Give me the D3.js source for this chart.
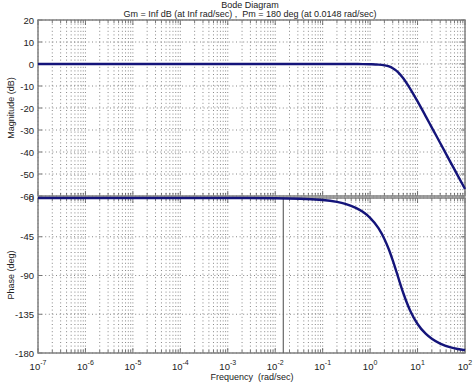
<!DOCTYPE html>
<html><head><meta charset="utf-8">
<script src="https://cdn.jsdelivr.net/npm/d3@7"></script>
<style>
html,body{margin:0;padding:0;background:#fff;}
svg{display:block;font-family:"Liberation Sans",Arial,sans-serif;}
svg text{white-space:pre;}
</style></head>
<body>
<svg id="c" width="474" height="383"></svg>
<script>
// ---- data ----
const freq      = [1e-7, 1e-3, 1e-2, 0.1, 0.2, 0.3, 0.5, 0.7, 1, 1.5, 2, 2.5, 3, 3.5, 4, 5, 7, 10, 15, 20, 30, 50, 70, 100];
const magnitude = [0, 0, 0, 0, 0, -0.01, -0.02, -0.04, -0.1, -0.27, -0.6, -1.1, -1.9, -2.9, -4.0, -6.5, -11.3, -17.0, -23.9, -28.9, -35.9, -44.8, -50.6, -56.8];
const phase     = [0, -0.02, -0.23, -2.3, -4.5, -6.8, -11.4, -16.0, -23.0, -35.0, -47.5, -60.1, -72.4, -83.7, -93.9, -110.3, -130.9, -146.3, -157.9, -163.5, -169.1, -173.5, -175.3, -176.7];
const magTicks   = [20, 10, 0, -10, -20, -30, -40, -50, -60];
const phaseTicks = [0, -45, -90, -135, -180];
const decades    = [-7, -6, -5, -4, -3, -2, -1, 0, 1, 2];
const pmFreq = 0.0148;
const titleLines = ["Bode Diagram", "Gm = Inf dB (at Inf rad/sec) ,  Pm = 180 deg (at 0.0148 rad/sec)"];

const svg = d3.select("#c");
const L = 38, R = 465;
const x = d3.scaleLog().domain([1e-7, 1e2]).range([L, R]);
const yM = d3.scaleLinear().domain([-60, 20]).range([196, 20]);
const yP = d3.scaleLinear().domain([-180, 0]).range([353, 198]);

const minor = [];
decades.slice(0, -1).forEach(d => { for (let k = 2; k <= 9; k++) minor.push(k * Math.pow(10, d)); });
const major = decades.map(d => Math.pow(10, d));

const gridCol = "#6a6a6a", boxCol = "#808080", lineCol = "#14147a";

function panel(y, ticks) {
  const [y0, y1] = y.range(); // bottom, top
  const g = svg.append("g");
  g.selectAll(null).data(major.concat(minor)).enter().append("line")
    .attr("x1", d => x(d)).attr("x2", d => x(d)).attr("y1", y1).attr("y2", y0)
    .attr("stroke", gridCol).attr("stroke-width", 0.8).attr("stroke-dasharray", "1,2.6");
  g.selectAll(null).data(ticks).enter().append("line")
    .attr("x1", L).attr("x2", R).attr("y1", d => y(d)).attr("y2", d => y(d))
    .attr("stroke", gridCol).attr("stroke-width", 0.8).attr("stroke-dasharray", "1,2.6");
  const xt = major.map(v => [v, 5]).concat(minor.map(v => [v, 3]));
  g.selectAll(null).data(xt).enter().append("line")
    .attr("x1", d => x(d[0])).attr("x2", d => x(d[0])).attr("y1", y0).attr("y2", d => y0 - d[1])
    .attr("stroke", "#555").attr("stroke-width", 0.8);
  g.selectAll(null).data(xt).enter().append("line")
    .attr("x1", d => x(d[0])).attr("x2", d => x(d[0])).attr("y1", y1).attr("y2", d => y1 + d[1])
    .attr("stroke", "#555").attr("stroke-width", 0.8);
  g.selectAll(null).data(ticks).enter().append("line")
    .attr("x1", L).attr("x2", L + 4).attr("y1", d => y(d)).attr("y2", d => y(d))
    .attr("stroke", "#555").attr("stroke-width", 0.8);
  g.selectAll(null).data(ticks).enter().append("line")
    .attr("x1", R).attr("x2", R - 4).attr("y1", d => y(d)).attr("y2", d => y(d))
    .attr("stroke", "#555").attr("stroke-width", 0.8);
  g.selectAll(null).data(ticks).enter().append("text")
    .attr("x", L - 4).attr("y", d => y(d) + 3.5).attr("text-anchor", "end")
    .attr("font-size", 9.5).attr("fill", "#222").text(d => d);
  g.append("rect").attr("x", L).attr("y", y1).attr("width", R - L).attr("height", y0 - y1)
    .attr("fill", "none").attr("stroke", boxCol).attr("stroke-width", 1.5);
  return g;
}

panel(yM, magTicks);
panel(yP, phaseTicks);

// phase margin marker
const pmIdx = d3.bisector(d => d).left(freq, pmFreq);
const pmPhase = phase[pmIdx - 1] + (phase[pmIdx] - phase[pmIdx - 1]) *
  (Math.log10(pmFreq) - Math.log10(freq[pmIdx - 1])) / (Math.log10(freq[pmIdx]) - Math.log10(freq[pmIdx - 1]));
svg.append("line").attr("x1", x(pmFreq)).attr("x2", x(pmFreq))
  .attr("y1", yP(pmPhase)).attr("y2", yP(-180))
  .attr("stroke", "#666").attr("stroke-width", 1.2);

// curves
const lineM = d3.line().x((d, i) => x(freq[i])).y(d => yM(d)).curve(d3.curveMonotoneX);
const lineP = d3.line().x((d, i) => x(freq[i])).y(d => yP(d)).curve(d3.curveMonotoneX);
svg.append("path").attr("d", lineM(magnitude)).attr("fill", "none")
  .attr("stroke", lineCol).attr("stroke-width", 2.4);
svg.append("path").attr("d", lineP(phase)).attr("fill", "none")
  .attr("stroke", lineCol).attr("stroke-width", 2.4);

// x tick labels (10^n)
const xl = svg.append("g");
decades.forEach(d => {
  const t = xl.append("text").attr("x", x(Math.pow(10, d))).attr("y", 370)
    .attr("text-anchor", "middle").attr("font-size", 9.5).attr("fill", "#222");
  t.append("tspan").text("10");
  t.append("tspan").attr("dy", -5).attr("font-size", 7).text(d);
});

// titles
svg.append("text").attr("x", 250).attr("y", 8).attr("text-anchor", "middle")
  .attr("font-size", 9).attr("fill", "#222").text(titleLines[0]);
svg.append("text").attr("x", 250).attr("y", 17).attr("text-anchor", "middle")
  .attr("font-size", 9).attr("fill", "#222").text(titleLines[1]);
// axis labels
svg.append("text").attr("x", 252).attr("y", 380).attr("text-anchor", "middle")
  .attr("font-size", 9).attr("fill", "#222").text("Frequency  (rad/sec)");
svg.append("text").attr("transform", "translate(14,108) rotate(-90)").attr("text-anchor", "middle")
  .attr("font-size", 9).attr("fill", "#222").text("Magnitude (dB)");
svg.append("text").attr("transform", "translate(14,275) rotate(-90)").attr("text-anchor", "middle")
  .attr("font-size", 9).attr("fill", "#222").text("Phase (deg)");
</script>
</body></html>
